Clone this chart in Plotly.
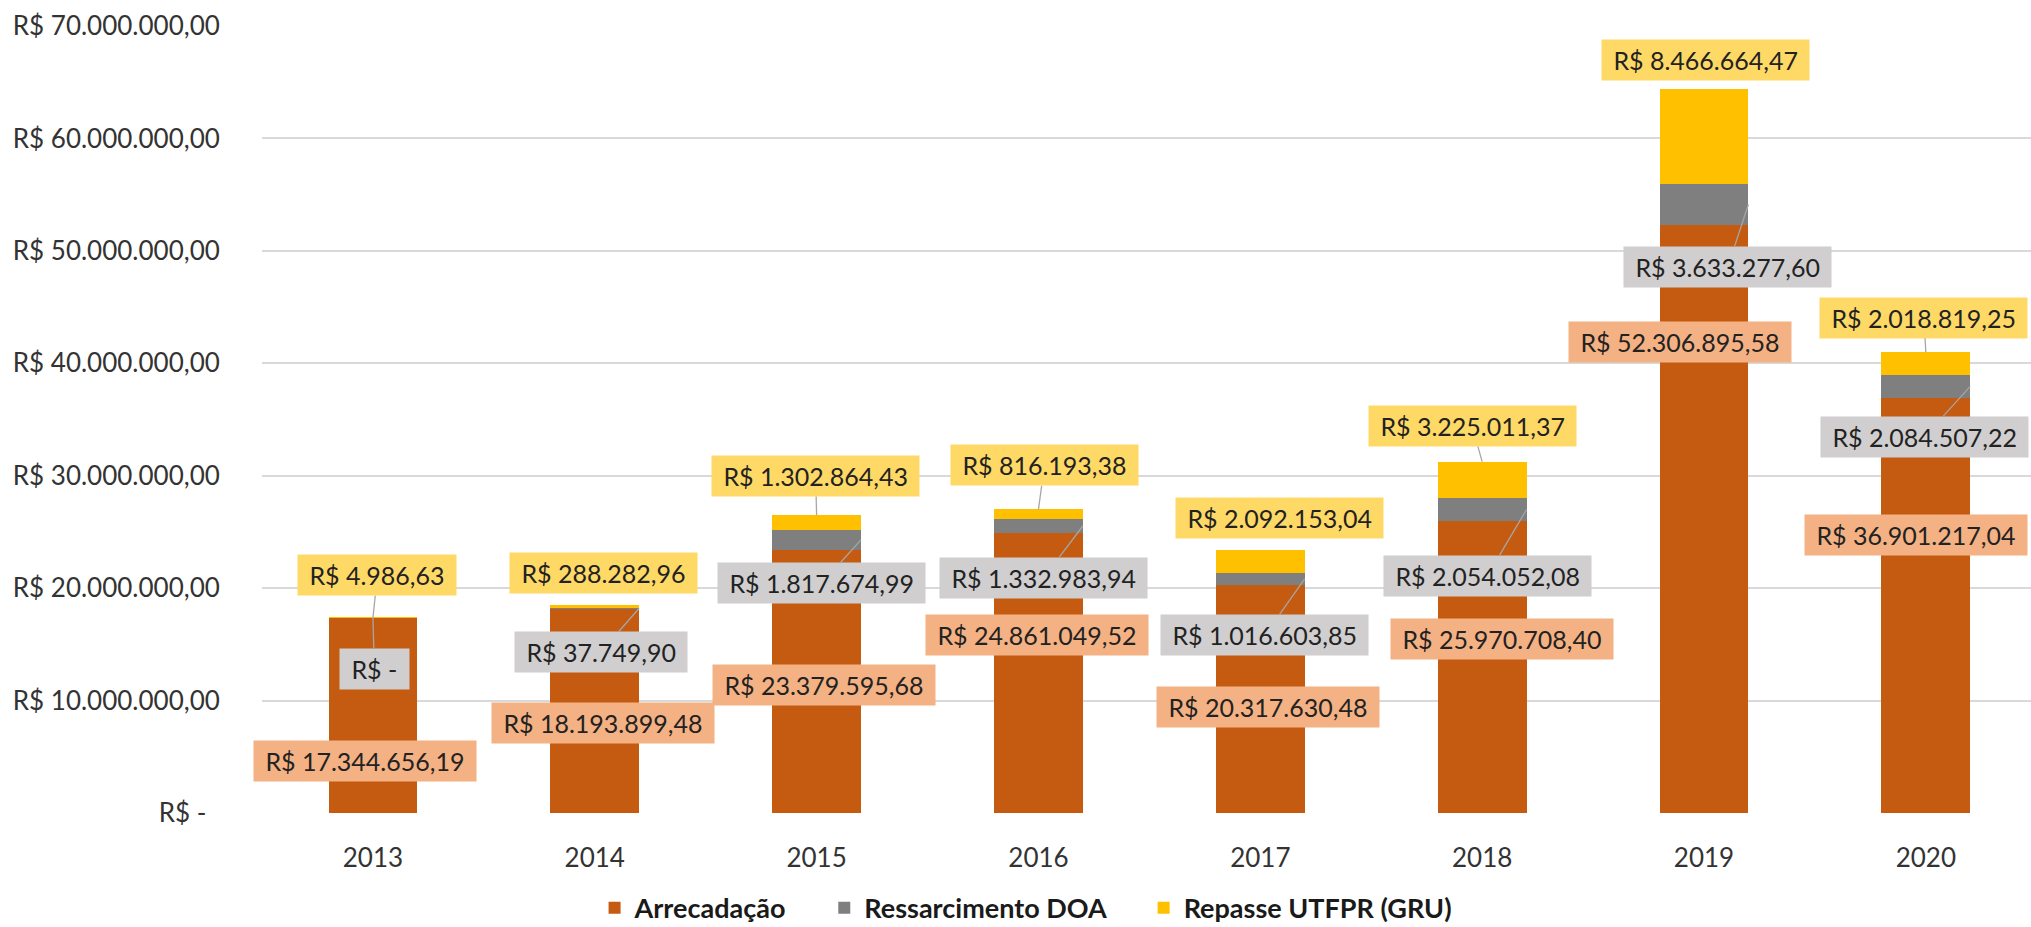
import plotly.graph_objects as go

# ---------------- data ----------------
years = [2013, 2014, 2015, 2016, 2017, 2018, 2019, 2020]
arrecadacao = [17344656.19, 18193899.48, 23379595.68, 24861049.52,
               20317630.48, 25970708.40, 52306895.58, 36901217.04]
ressarcimento = [0.00, 37749.90, 1817674.99, 1332983.94,
                 1016603.85, 2054052.08, 3633277.60, 2084507.22]
repasse = [4986.63, 288282.96, 1302864.43, 816193.38,
           2092153.04, 3225011.37, 8466664.47, 2018819.25]
series_names = ["Arrecadação", "Ressarcimento DOA", "Repasse UTFPR (GRU)"]
y_tick_values = [0, 10e6, 20e6, 30e6, 40e6, 50e6, 60e6, 70e6]
year_labels = [str(y) for y in years]

# ---------------- styling / layout ----------------
FONT = "Lato, Carlito, Calibri, sans-serif"
BAR_COLORS = ["#C55A11", "#7F7F7F", "#FFC000"]
LABEL_BG = ["#F4B183", "#D0CECE", "#FFD966"]
BAR_W = 0.4
NB = "\u00a0"
FIG_H = 950          # taller than the 927 px window: the blank bottom strip falls outside
PLOT_BOTTOM = 812.7  # px from top of page

# label box offsets (pixels) relative to the anchor point of each segment
yellow_off = [(4.5, -42.7), (9, -31.5), (-1, -39), (6, -44), (19.5, -31.4),
              (-10, -35.5), (1, -28.8), (-2, -34.3)]
yellow_leader = [1, 0, 1, 1, 0, 1, 0, 1]
gray_off = [(1.5, 51.25), (-38.5, 44), (-39.3, 43.3), (-39, 51.7), (-40, 56.4),
            (-39, 66.2), (-20.5, 62.1), (-46, 50.75)]
gray_side = [0, 0.5, 0.5, 0.5, 0.5, 0.5, 0.5, 0.5]
gray_leader = [1, 1, 1, 1, 1, 1, 1, 1]
orange_off = [(-8, 143.25), (8, 114.3), (7.5, 134.6), (-1.5, 101.7),
              (8, 122.65), (20, 117.7), (-24.5, 117.2), (-10, 137)]


def brl(v):
    if v == 0:
        return "R$ -"
    s = f"{v:,.2f}".replace(",", "X").replace(".", ",").replace("X", ".")
    return "R$ " + s


fig = go.Figure()
for name, vals, col in zip(series_names, [arrecadacao, ressarcimento, repasse], BAR_COLORS):
    fig.add_trace(go.Bar(x=years, y=vals, name=name + NB * 5, width=BAR_W,
                         marker=dict(color=col, line=dict(width=0)),
                         hoverinfo="skip"))

annotations = []


def add_label(x, y, text, off, bg, leader):
    annotations.append(dict(
        x=x, y=y, xref="x", yref="y", text=NB + text + NB,
        showarrow=True, arrowhead=0, standoff=0,
        arrowwidth=1.3,
        arrowcolor="#A6A6A6" if leader else "rgba(0,0,0,0)",
        ax=off[0], ay=off[1],
        bgcolor=bg, borderpad=5,
        font=dict(family=FONT, size=25, color="#222222"),
    ))


for i, yr in enumerate(years):
    a, r, p = arrecadacao[i], ressarcimento[i], repasse[i]
    total = a + r + p
    add_label(yr, total, brl(p), yellow_off[i], LABEL_BG[2], yellow_leader[i])
    add_label(yr + gray_side[i] * BAR_W, a + r / 2, brl(r), gray_off[i], LABEL_BG[1], gray_leader[i])
    add_label(yr, a, brl(a), orange_off[i], LABEL_BG[0], 0)

y_text = [brl(v) + (NB * 2 if v == 0 else "") for v in y_tick_values]

fig.update_layout(
    width=2031, height=FIG_H,
    margin=dict(l=262, r=0, t=26, b=FIG_H - PLOT_BOTTOM),
    paper_bgcolor="white", plot_bgcolor="white",
    barmode="stack", showlegend=True,
    font=dict(family=FONT, size=26, color="#333333"),
    xaxis=dict(range=[2012.5, 2020.474], tickvals=years, ticktext=year_labels,
               showgrid=False, zeroline=False, showline=False,
               ticks="outside", ticklen=22, tickcolor="rgba(0,0,0,0)",
               tickfont=dict(family=FONT, size=26, color="#333333"), fixedrange=True),
    yaxis=dict(range=[0, 70e6], tickvals=y_tick_values, ticktext=y_text,
               showgrid=True, gridcolor="#D9D9D9", gridwidth=1.5,
               zeroline=False, showline=False,
               ticks="outside", ticklen=36, tickcolor="rgba(0,0,0,0)",
               tickfont=dict(family=FONT, size=26, color="#333333"), fixedrange=True),
    legend=dict(orientation="h", x=0.188, xanchor="left", y=-0.121, yanchor="middle",
                font=dict(family=FONT, size=27, color="#1a1a1a", weight="bold"),
                bgcolor="rgba(0,0,0,0)", traceorder="normal"),
    annotations=annotations,
    bargap=0.6,
)

fig.write_html("out.html", config={"displayModeBar": False},
               post_script=["document.body.style.margin='0';document.body.style.overflow='hidden';"])
